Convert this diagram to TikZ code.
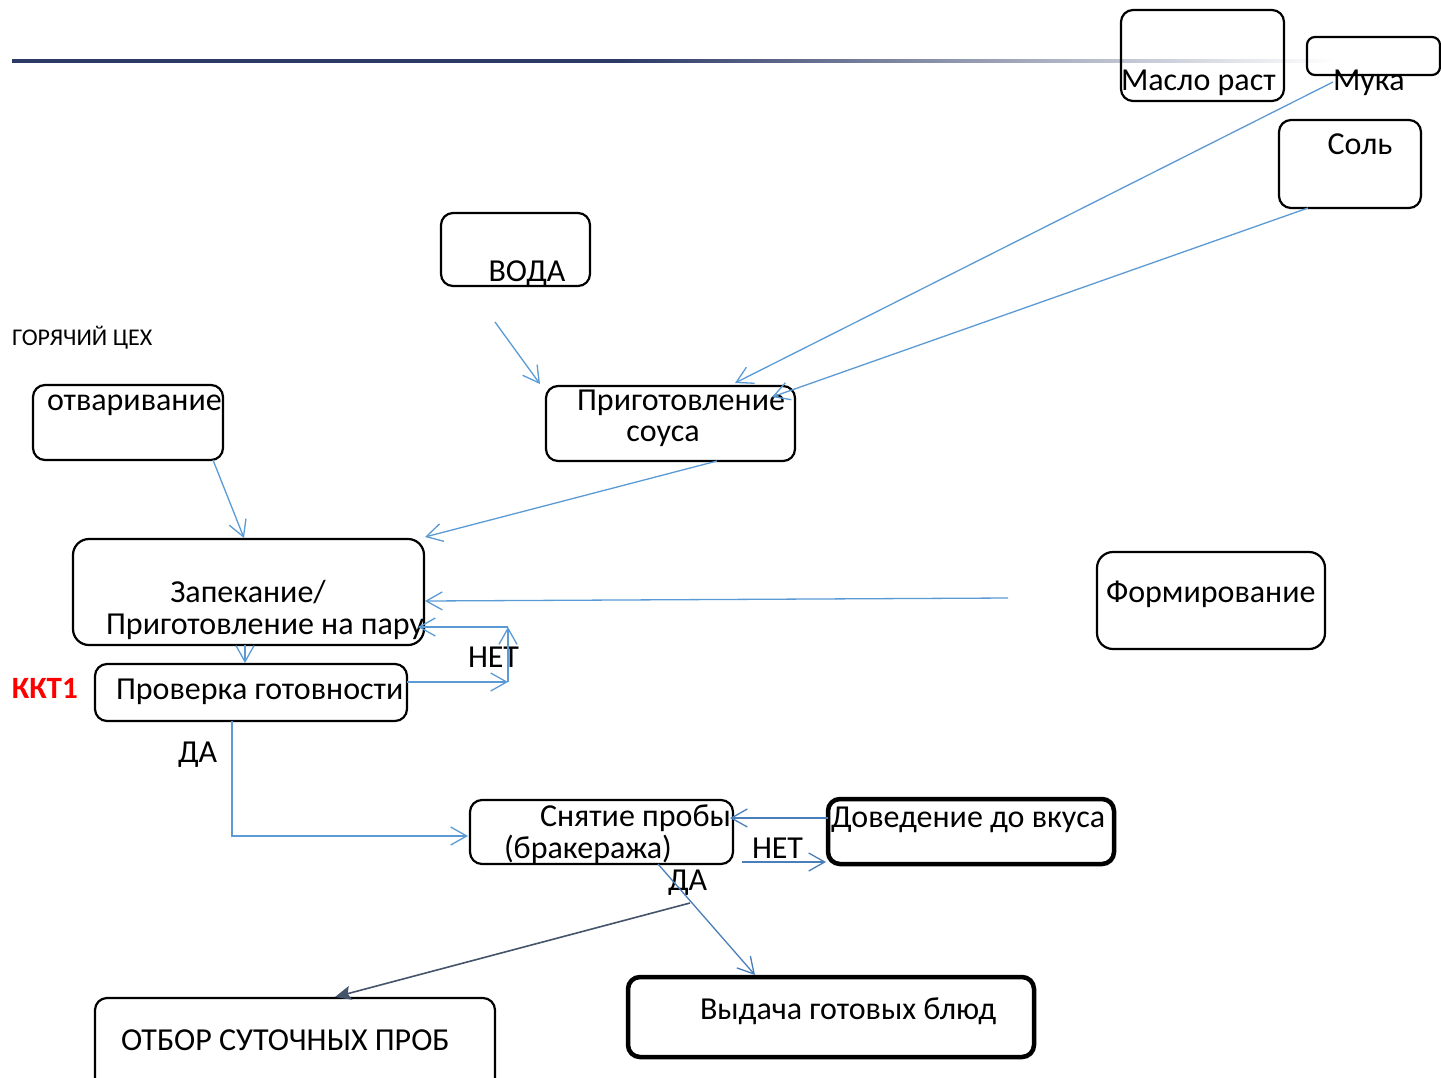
\documentclass[tikz,border=0pt]{standalone}
\usepackage{fontspec}
\setmainfont{Carlito}
\usetikzlibrary{arrows.meta,calc}
\definecolor{navy}{HTML}{2C3A66}
\definecolor{lblue}{HTML}{5B9BD5}
\definecolor{mblue}{HTML}{4A7EBB}
\definecolor{slate}{HTML}{44546A}
\definecolor{kkred}{HTML}{FF0000}
\tikzset{
  box/.style={draw=black, rounded corners=12pt, line width=2.2pt, anchor=north west, inner sep=0pt, outer sep=0pt},
  boldbox/.style={box, line width=4.5pt},
  txt/.style={anchor=base west, inner sep=0pt, outer sep=0pt, font=\fontsize{32}{38}\selectfont},
  ctxt/.style={txt, anchor=base},
  small/.style={anchor=base west, inner sep=0pt, font=\fontsize{24}{28}\selectfont},
  conn/.style={draw=lblue, line width=1.3pt, -{Straight Barb[length=16pt,width=18pt,line width=1.3pt]}},
  mconn/.style={conn, draw=mblue},
  dconn/.style={draw=slate, line width=1.6pt, -{Stealth[length=16pt,width=14pt,inset=3pt]}}
}
\begin{document}
\begin{tikzpicture}[x=1pt,y=-1pt]
\clip (0,0) rectangle (1441,1077);
\fill[white] (0,0) rectangle (1441,1077);
% top rule
\fill[navy] (12,59) rectangle (620,63);
\shade[left color=navy, right color=white] (620,59.5) rectangle (1335,62.5);

% boxes
\node[box, minimum width=163pt, minimum height=91pt] (maslo) at (1121,10) {};
\node[box, rounded corners=8pt, minimum width=133pt, minimum height=38pt] (muka) at (1307,37) {};
\node[box, minimum width=142pt, minimum height=88pt] (sol) at (1279,120) {};
\node[box, minimum width=149pt, minimum height=73pt] (voda) at (441,213) {};
\node[box, minimum width=190pt, minimum height=75pt] (otv) at (33,385) {};
\node[box, minimum width=249pt, minimum height=75pt] (sous) at (546,386) {};
\node[box, rounded corners=16pt, minimum width=351pt, minimum height=106pt] (zap) at (73,539) {};
\node[box, rounded corners=16pt, minimum width=228pt, minimum height=97pt] (form) at (1097,552) {};
\node[box, minimum width=312pt, minimum height=57pt] (prov) at (95,664) {};
\node[box, minimum width=263pt, minimum height=64pt] (snyat) at (470,800) {};
\node[boldbox, minimum width=286pt, minimum height=65pt] (dov) at (828,799) {};
\node[boldbox, minimum width=406pt, minimum height=80pt] (vyd) at (628,977) {};
\node[box, minimum width=400pt, minimum height=100pt] (otbor) at (95,998) {};

% texts
\node[txt] (maslot) at (1121,90) {Масло раст};
\node[txt] (mukat) at (1333,90) {Мука};
\node[ctxt] (solt) at (1360,154) {Соль};
\node[ctxt] (vodat) at (527,281) {ВОДА};
\node[small] (ceh) at (12,345) {ГОРЯЧИЙ ЦЕХ};
\node[txt] (otvt) at (47,410) {отваривание};
\node[ctxt] (sous1) at (681,410) {Приготовление};
\node[ctxt] (sous2) at (663,441) {соуса};
\node[ctxt] (zap1) at (248,602) {Запекание/};
\node[ctxt] (zap2) at (265,634) {Приготовление на пару};
\node[txt] (formt) at (1106,602) {Формирование};
\node[txt] (provt) at (116,699) {Проверка готовности};
\node[txt, text=kkred, font=\fontsize{31}{36}\selectfont\bfseries] (kkt) at (12,698) {ККТ1};
\node[txt] (net1) at (468,667) {НЕТ};
\node[txt] (da1) at (178,762) {ДА};
\node[txt] (sn1) at (540,826) {Снятие пробы};
\node[txt] (sn2) at (504,858) {(бракеража)};
\node[txt] (dovt) at (831,827) {Доведение до вкуса};
\node[txt] (net2) at (752,858) {НЕТ};
\node[txt] (da2) at (668,890) {ДА};
\node[txt] (vydt) at (700,1019) {Выдача готовых блюд};
\node[txt] (otbt) at (121,1050) {ОТБОР СУТОЧНЫХ ПРОБ};

% free coordinates
\coordinate (c3) at (495,322);
\coordinate (c6) at (1008,598);
\coordinate (c8a) at (508,682);
\coordinate (c8b) at (508,627);
\coordinate (c11) at (742,862);
\coordinate (c13) at (690,903);

% connectors
\draw[conn] ($(mukat.base west)+(0,-8)$) -- ($(sous.north west)+(189,-3)$);
\draw[conn] ($(sol.south west)+(29,0)$) -- ($(sous.north east)+(-23,11)$);
\draw[conn] (c3) -- ($(sous.north west)+(-6,-2)$);
\draw[conn] ($(otv.south east)+(-10,0)$) -- ($(zap.north west)+(171,-1)$);
\draw[conn] ($(sous.south west)+(171,0)$) -- ($(zap.north east)+(1,-2)$);
\draw[conn] (c6) -- ($(zap.east)+(1,9)$);
\draw[conn] ($(zap.south west)+(172,0)$) -- ($(prov.north west)+(150,-1)$);
\draw[conn] ($(prov.north east)+(0,18)$) -- (c8a);
\draw[conn] (c8a) -- (c8b);
\draw[conn] (c8b) -- ($(zap.south east)+(-6,-18)$);
\draw[conn] ($(prov.south west)+(137,0)$) |- ($(snyat.west)+(-2,4)$);
\draw[mconn] ($(dov.north west)+(0,19)$) -- ($(snyat.north east)+(-3,18)$);
\draw[mconn] (c11) -- ($(dov.south west)+(-2,-2)$);
\draw[mconn] ($(snyat.south west)+(188,0)$) -- ($(vyd.north west)+(127,-2)$);
\draw[dconn] (c13) -- ($(otbor.north west)+(240,-1)$);
\end{tikzpicture}
\end{document}
